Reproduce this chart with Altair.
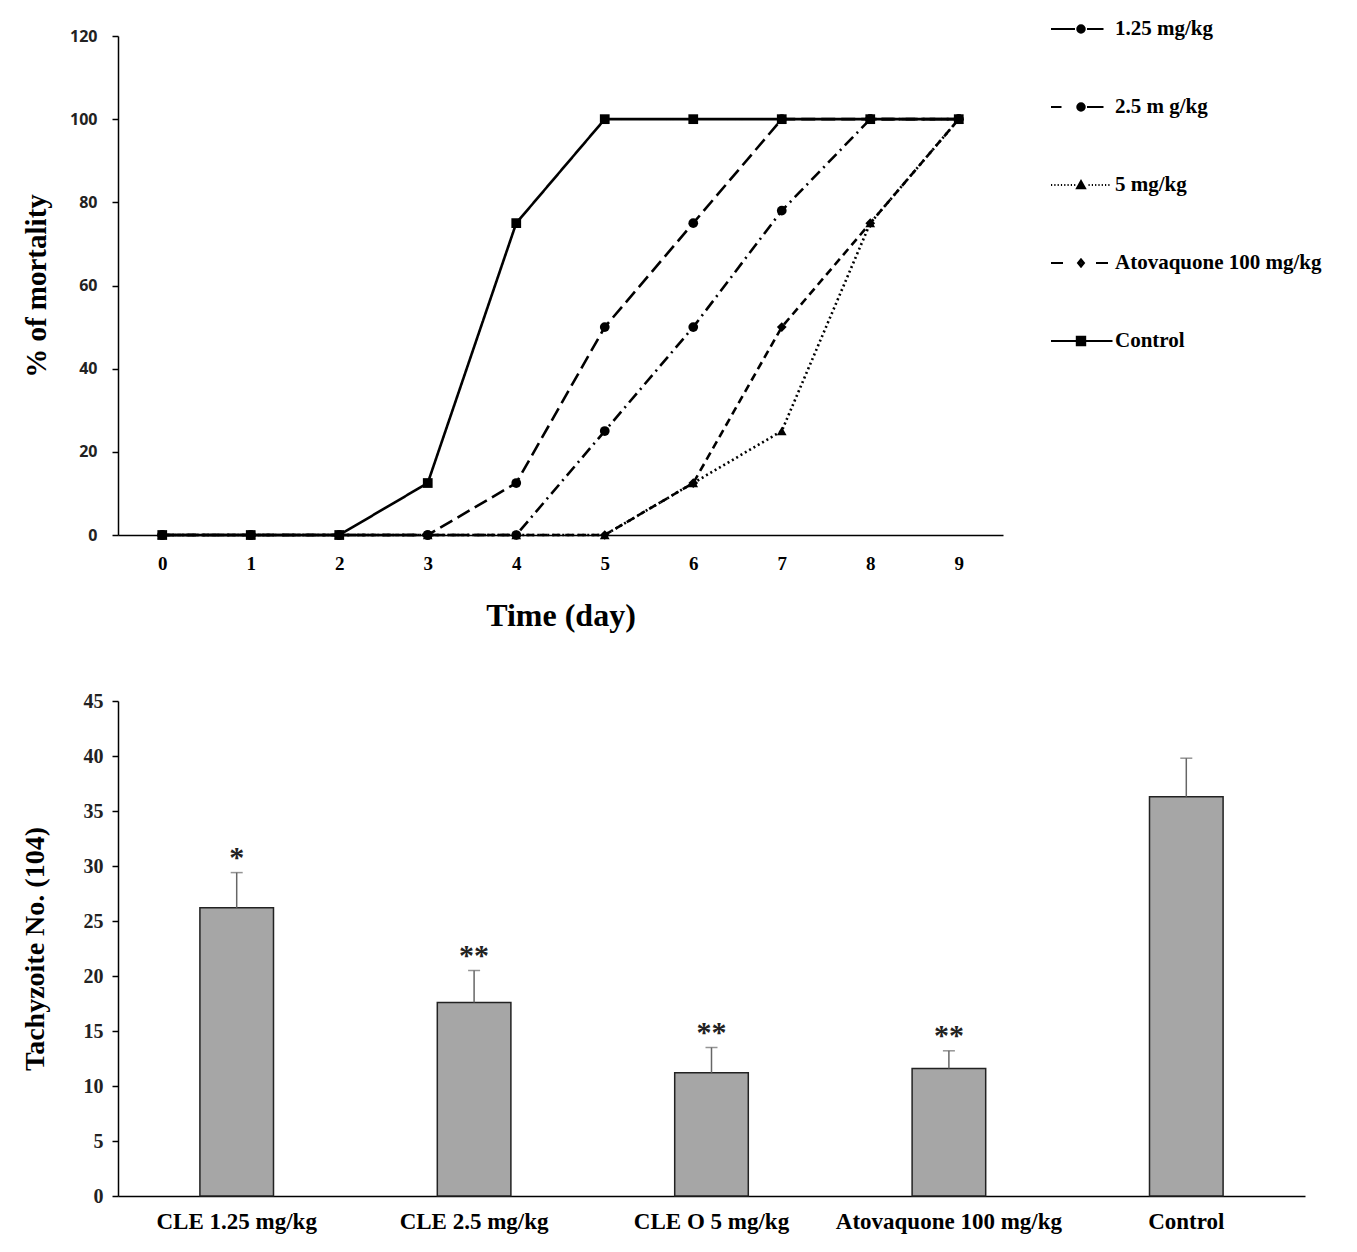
import altair as alt
import pandas as pd

# ---------------- data ----------------
days = list(range(10))
series_names = ["1.25 mg/kg", "2.5 m g/kg", "5 mg/kg", "Atovaquone 100 mg/kg", "Control"]
mort_125 = [0, 0, 0, 0, 12.5, 50, 75, 100, 100, 100]
mort_25 = [0, 0, 0, 0, 0, 25, 50, 78, 100, 100]
mort_5 = [0, 0, 0, 0, 0, 0, 12.5, 25, 75, 100]
mort_atq = [0, 0, 0, 0, 0, 0, 12.5, 50, 75, 100]
mort_ctrl = [0, 0, 0, 12.5, 75, 100, 100, 100, 100, 100]
top_y_ticks = [0, 20, 40, 60, 80, 100, 120]

groups = ["CLE 1.25 mg/kg", "CLE 2.5 mg/kg", "CLE O 5 mg/kg", "Atovaquone 100 mg/kg", "Control"]
tachy_mean = [26.2, 17.6, 11.2, 11.6, 36.3]
tachy_sem = [3.2, 2.9, 2.3, 1.6, 3.5]
sig_labels = ["*", "**", "**", "**", ""]
bottom_y_ticks = [0, 5, 10, 15, 20, 25, 30, 35, 40, 45]

# ---------------- tables ----------------
series_values = [mort_125, mort_25, mort_5, mort_atq, mort_ctrl]
rows = []
for name, vals in zip(series_names, series_values):
    for d, v in zip(days, vals):
        rows.append({"series": name, "day": d, "mortality": v})
mort_df = pd.DataFrame(rows)

bar_df = pd.DataFrame({
    "group": groups,
    "mean": tachy_mean,
    "sem": tachy_sem,
    "sig": sig_labels,
})
bar_df["hi"] = bar_df["mean"] + bar_df["sem"]

# ---------------- styles ----------------
SERIF = "Liberation Serif"
dash_range = [[14, 6], [12, 5, 2, 5], [2, 3], [8, 5], [1, 0]]
shape_range = ["circle", "circle", "triangle-up", "diamond", "square"]
size_range = [95, 95, 85, 60, 120]


def circ(r):
    return "".join(
        f"M{-k:.3f},0A{k:.3f},{k:.3f} 0 1,0 {k:.3f},0A{k:.3f},{k:.3f} 0 1,0 {-k:.3f},0Z"
        for k in (r, r * 0.6, r * 0.25)
    )


def sq(h):
    return "".join(f"M{-k:.3f},{-k:.3f}H{k:.3f}V{k:.3f}H{-k:.3f}Z" for k in (h, h * 0.6, h * 0.25))


def tri(h):
    return "".join(
        f"M{-k:.3f},{0.8 * k:.3f}L{k:.3f},{0.8 * k:.3f}L0,{-k:.3f}Z" for k in (h, h * 0.55, h * 0.2)
    )


def dia(h):
    return "".join(f"M0,{-k:.3f}L{0.8 * k:.3f},0L0,{k:.3f}L{-0.8 * k:.3f},0Z" for k in (h, h * 0.5))


def dots(x0, x1, step=0.22, ln=0.08):
    out = []
    x = x0
    while x < x1:
        out.append(f"M{x:.2f},0H{x + ln:.2f}")
        x += step
    return "".join(out)


legend_paths = [
    "M-2,0H-0.4" + circ(0.25) + "M0.4,0H1.5",
    "M-2,0H-1.3" + circ(0.25) + "M0.4,0H1.5",
    dots(-2, -0.45) + tri(0.27) + dots(0.5, 1.9),
    "M-2,0H-1.2" + dia(0.25) + "M1.0,0H1.8",
    "M-2,0H2.1" + sq(0.28),
]

series_scale_dash = alt.Scale(domain=series_names, range=dash_range)
series_scale_shape = alt.Scale(domain=series_names, range=shape_range)
series_scale_size = alt.Scale(domain=series_names, range=size_range)

# ---------------- top chart ----------------
x_top = alt.X(
    "day:Q",
    scale=alt.Scale(domain=[-0.5, 9.5], nice=False, zero=False),
    axis=alt.Axis(
        values=days, format="d", ticks=False, grid=False, title="Time (day)",
        labelFont=SERIF, labelFontSize=19, labelFontWeight="bold",
        labelColor="black", labelPadding=19,
        titleFont=SERIF, titleFontSize=32, titleFontWeight="bold",
        titleColor="black", titlePadding=27,
        domainColor="black", domainWidth=1.5,
    ),
)
y_top = alt.Y(
    "mortality:Q",
    scale=alt.Scale(domain=[0, 120], nice=False),
    axis=alt.Axis(
        values=top_y_ticks, grid=False, title="% of mortality",
        tickSize=6, tickColor="black", tickWidth=1.5,
        labelFont="Open Sans", labelFontSize=16, labelFontWeight="bold",
        labelColor="#222", labelPadding=15,
        titleFont=SERIF, titleFontSize=29, titleFontWeight="bold",
        titleColor="black", titlePadding=18,
        domainColor="black", domainWidth=1.5,
    ),
)

lines = alt.Chart(mort_df).mark_line(color="black", strokeWidth=2.6).encode(
    x=x_top,
    y=y_top,
    strokeDash=alt.StrokeDash("series:N", scale=series_scale_dash, legend=None),
    detail="series:N",
)
points = alt.Chart(mort_df).mark_point(filled=True, color="black", opacity=1).encode(
    x="day:Q",
    y="mortality:Q",
    shape=alt.Shape("series:N", scale=series_scale_shape, legend=None),
    size=alt.Size("series:N", scale=series_scale_size, legend=None),
)
legend_layer = alt.Chart(mort_df).transform_filter("false").mark_point(
    filled=False, color="black", strokeWidth=2, opacity=1
).encode(
    x="day:Q",
    y="mortality:Q",
    shape=alt.Shape(
        "series:N",
        scale=alt.Scale(domain=series_names, range=legend_paths),
        legend=alt.Legend(
            title=None, orient="none", legendX=947, legendY=-23,
            symbolSize=900, symbolStrokeWidth=2, symbolStrokeColor="black",
            symbolFillColor="black", symbolOpacity=1, rowPadding=52, padding=0,
            labelFont=SERIF, labelFontSize=21, labelFontWeight="bold",
            labelColor="black", labelOffset=18, labelLimit=400,
            labelExpr="(datum.label == 'Control' || indexof(datum.label, 'Atov') == 0) ? datum.label : '\u00a0\u00a0\u00a0' + datum.label",
        ),
    ),
)

top = alt.layer(lines, points, legend_layer).resolve_scale(
    shape="independent"
).resolve_legend(shape="independent").properties(width=885, height=499)

# ---------------- bottom chart ----------------
x_bot = alt.X(
    "group:N",
    sort=groups,
    scale=alt.Scale(paddingInner=0.69, paddingOuter=0.345),
    axis=alt.Axis(
        title=None, ticks=False, labelAngle=0, labelAlign="center", labelBaseline="top",
        grid=False,
        labelFont=SERIF, labelFontSize=23, labelFontWeight="bold",
        labelColor="black", labelPadding=14, labelLimit=400,
        domainColor="black", domainWidth=1.5,
    ),
)
y_bot = alt.Y(
    "mean:Q",
    scale=alt.Scale(domain=[0, 45], nice=False),
    axis=alt.Axis(
        values=bottom_y_ticks, grid=False, title="Tachyzoite No. (104)",
        tickSize=6, tickColor="black", tickWidth=1.5,
        labelFont=SERIF, labelFontSize=20, labelFontWeight="bold",
        labelColor="#222", labelPadding=9,
        titleFont=SERIF, titleFontSize=28, titleFontWeight="bold",
        titleColor="black", titlePadding=34,
        domainColor="black", domainWidth=1.5,
    ),
)

bbase = alt.Chart(bar_df)
bars = bbase.mark_bar(color="#a6a6a6", stroke="#222", strokeWidth=1.5).encode(x=x_bot, y=y_bot)
err = bbase.mark_rule(color="#666", strokeWidth=1.5).encode(
    x=alt.X("group:N", sort=groups), y="mean:Q", y2="hi:Q"
)
cap = bbase.mark_tick(color="#666", thickness=1.5, size=12).encode(
    x=alt.X("group:N", sort=groups), y="hi:Q"
)
stars = bbase.mark_text(
    dy=-6, baseline="alphabetic", font=SERIF, fontSize=30, fontWeight="bold", color="#222"
).encode(x=alt.X("group:N", sort=groups), y="hi:Q", text="sig:N")

bottom = alt.layer(bars, err, cap, stars).properties(width=1187, height=495)

chart = alt.vconcat(top, bottom, spacing=60).properties(
    padding={"left": 13, "top": 5, "right": 5, "bottom": 5}
).configure_view(stroke=None).configure_axis(grid=False)

chart.save("out.html", embed_options={"renderer": "svg", "actions": False})
